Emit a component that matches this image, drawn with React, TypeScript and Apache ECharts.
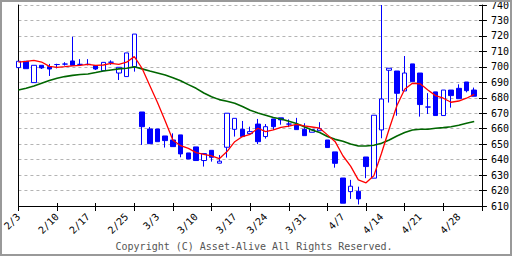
import React, { useEffect, useRef } from "react";
import * as echarts from "echarts";

const dates = [
  "2/3", "2/4", "2/5", "2/6", "2/7", "2/10", "2/12", "2/13", "2/14", "2/17",
  "2/18", "2/19", "2/20", "2/21", "2/25", "2/26", "2/27", "2/28", "3/3", "3/4",
  "3/5", "3/6", "3/7", "3/10", "3/11", "3/12", "3/13", "3/14", "3/17", "3/18",
  "3/19", "3/21", "3/24", "3/25", "3/26", "3/27", "3/28", "3/31", "4/1", "4/2",
  "4/3", "4/4", "4/7", "4/8", "4/9", "4/10", "4/11", "4/14", "4/15", "4/16",
  "4/17", "4/18", "4/21", "4/22", "4/23", "4/24", "4/25", "4/28", "4/30", "5/1",
  "5/2",
];

const weekLabels = ["2/3", "2/10", "2/17", "2/25", "3/3", "3/10", "3/17", "3/24", "3/31", "4/7", "4/14", "4/21", "4/28"];

const opens = [
  699.5, 703.6, 689.8, 701, 700.1, 701.5, 701.8, 703.8, 701.6, 701.6,
  700.8, 697.5, 703, 696, 693.7, 700.1, 670.8, 659.8, 659.8, 655.3,
  652.7, 656, 644.3, 648.2, 639.4, 646, 637.7, 648, 659.6, 659.6,
  656.8, 663, 654.9, 666.3, 667, 663, 662.4, 659.6, 657.7, 658.7,
  652.7, 645, 628.1, 619.3, 619.5, 641.7, 628, 659.2, 697.8, 697.3,
  684.4, 701.9, 696, 674, 683.8, 668.5, 685, 686.1, 690.2, 685,
];
const closes = [
  703.6, 698.8, 701, 699.3, 698.6, 701.5, 701.8, 701, 701.6, 701.6,
  698.6, 702.9, 703, 699.7, 709, 721.2, 661.3, 650.3, 651.6, 652.3,
  648.4, 643.7, 640.4, 639.4, 643.9, 641.5, 639, 670, 666.7, 654.9,
  658.1, 651.6, 661.3, 661.3, 665.7, 663, 659.4, 655.5, 659.4, 660,
  647.8, 637.6, 611.8, 622.8, 614.6, 635.5, 668.7, 679.2, 699.1, 682.9,
  696, 690.4, 675.6, 674, 668.5, 685, 681.4, 679.4, 684.6, 681,
];
const lows = [
  699.5, 698.8, 689.8, 698.6, 694.1, 699, 700.8, 701, 701, 701,
  698, 697.5, 701.3, 691.5, 693.7, 696.9, 649.5, 650.3, 651.6, 647.8,
  648.4, 641.5, 640.4, 639.4, 635.5, 638.7, 637.7, 641.3, 654.9, 654.9,
  656.8, 650, 653.6, 659.2, 662.6, 661, 659.4, 655.5, 657.7, 658.7,
  647.8, 634.8, 611.8, 614.6, 611, 628, 628, 653.8, 676.9, 668.4,
  684.4, 690.4, 667.8, 669.5, 668.5, 668.5, 673.6, 679.4, 683.5, 681,
];
const highs = [
  703.6, 703.6, 701, 701, 701.9, 702, 703, 719.5, 705, 705,
  700.8, 702.9, 704.2, 699.7, 709, 721.2, 670.8, 661.1, 659.8, 655.3,
  657, 656, 644.3, 648.2, 643.9, 646, 643, 670, 666.7, 665,
  661.3, 666.3, 663, 666.3, 667, 666, 667, 663.5, 659.4, 664.2,
  652.7, 645, 628.1, 626.9, 622.5, 641.7, 668.7, 740, 699.1, 697.3,
  707, 701.9, 696, 683, 683.8, 685, 685, 688.7, 690.2, 686.6,
];

const ma5 = [
  703.1, 703.6, 704.2, 703.1, 700.3, 699.7, 700.1, 700.6, 701, 701.6,
  701, 701.2, 702.3, 701.6, 703, 706.6, 699.1, 688, 677, 665,
  652.5, 649, 647.3, 644.5, 643.4, 642.4, 640.6, 645.2, 651.6, 654.9,
  656.4, 660.3, 658.1, 659.2, 660.9, 661.6, 662.8, 661.8, 661.1, 660.3,
  656, 651.6, 642.5, 635.8, 626.9, 625, 629.5, 644.1, 660, 675,
  685.5, 689.4, 689, 685, 681.4, 679.7, 677.1, 677.9, 679.7, 682.2,
];
const ma25 = [
  685, 686.1, 687.6, 689.4, 691.1, 692.6, 693.7, 694.5, 695, 695.4,
  696.3, 697.3, 698, 698.7, 699.1, 700, 698.7, 697.3, 696, 694.7,
  693, 691, 688.5, 686.1, 683.1, 680.7, 678.8, 677.7, 676.4, 674.3,
  671.9, 670.2, 668.7, 667.2, 666.3, 664.8, 663.3, 661.3, 659.2, 657.5,
  654.9, 653.1, 651.9, 650.1, 648.8, 648.8, 649.3, 650.6, 652.7, 655.3,
  657.5, 659.2, 659.6, 659.6, 660.3, 660.7, 661.3, 662.2, 663.5, 664.6,
];

const yMin = 610;
const yMax = 740;
const yStep = 10;

const FONT = "DejaVu Sans Mono";

export default function App() {
  const ref = useRef<HTMLDivElement>(null);

  useEffect(() => {
    const chart = echarts.init(ref.current!, null, { renderer: "svg" });
    const weekSet = new Set(weekLabels);
    const candles = opens.map((o, i) => [o, closes[i], lows[i], highs[i]]);
    const tickEvery = (i: number) => i % 5 === 0;

    chart.setOption({
      animation: false,
      backgroundColor: "#ffffff",
      grid: { left: 10, right: 29, top: 5, bottom: 50, containLabel: false },
      xAxis: [
        {
          type: "category",
          data: dates,
          boundaryGap: false,
          position: "bottom",
          axisLine: { show: true, onZero: false, lineStyle: { color: "#000", width: 1 } },
          axisTick: { show: true, interval: tickEvery, length: 5, lineStyle: { color: "#000" } },
          axisLabel: {
            show: true,
            interval: (i: number, v: string) => weekSet.has(v),
            rotate: 45,
            margin: 9,
            fontFamily: FONT,
            fontSize: 10,
            color: "#000",
          },
          splitLine: { show: false },
        },
        {
          type: "category",
          data: dates,
          boundaryGap: false,
          position: "bottom",
          axisLine: { show: false, onZero: false },
          axisTick: { show: true, inside: true, interval: tickEvery, length: 3, lineStyle: { color: "#000" } },
          axisLabel: { show: false },
          splitLine: { show: false },
        },
      ],
      yAxis: [
        {
          type: "value",
          position: "right",
          min: yMin,
          max: yMax,
          interval: yStep,
          axisLine: { show: true, lineStyle: { color: "#000", width: 1 } },
          axisTick: { show: true, length: 5, lineStyle: { color: "#000" } },
          axisLabel: { show: true, margin: 9, fontFamily: FONT, fontSize: 10, color: "#000" },
          splitLine: { show: true, lineStyle: { color: "#b4b4b4", type: [3, 3], width: 1 } },
        },
        {
          type: "value",
          position: "right",
          min: yMin,
          max: yMax,
          interval: yStep,
          axisLine: { show: false },
          axisTick: { show: true, inside: true, length: 3, lineStyle: { color: "#000" } },
          axisLabel: { show: false },
          splitLine: { show: false },
        },
        {
          type: "value",
          position: "left",
          min: yMin,
          max: yMax,
          interval: yStep,
          axisLine: { show: true, lineStyle: { color: "#000", width: 1 } },
          axisTick: { show: false },
          axisLabel: { show: false },
          splitLine: { show: false },
        },
      ],
      series: [
        {
          type: "candlestick",
          data: candles,
          barWidth: 5,
          clip: false,
          itemStyle: {
            color: "#ffffff",
            color0: "#0000ff",
            borderColor: "#0000ff",
            borderColor0: "#0000ff",
            borderWidth: 1,
          },
          z: 2,
        },
        {
          type: "line",
          data: ma25,
          symbol: "none",
          smooth: false,
          lineStyle: { color: "#006600", width: 1.6 },
          z: 3,
        },
        {
          type: "line",
          data: ma5,
          symbol: "none",
          smooth: false,
          lineStyle: { color: "#ff0000", width: 1.3 },
          z: 4,
        },
      ],
      graphic: [
        {
          type: "text",
          x: 254,
          y: 246,
          style: {
            text: "Copyright (C) Asset-Alive All Rights Reserved.",
            font: `10px "${FONT}"`,
            fill: "#555555",
            textAlign: "center",
            textVerticalAlign: "middle",
          },
          silent: true,
        },
        {
          type: "rect",
          shape: { x: 1, y: 1, width: 510, height: 254 },
          style: { fill: "none", stroke: "#999999", lineWidth: 2 },
          silent: true,
          z: 100,
        },
      ],
    });

    return () => chart.dispose();
  }, []);

  return (
    <div style={{ position: "fixed", left: 0, top: 0, width: 512, height: 256, background: "#fff" }}>
      <div ref={ref} style={{ width: 512, height: 256 }} />
    </div>
  );
}
